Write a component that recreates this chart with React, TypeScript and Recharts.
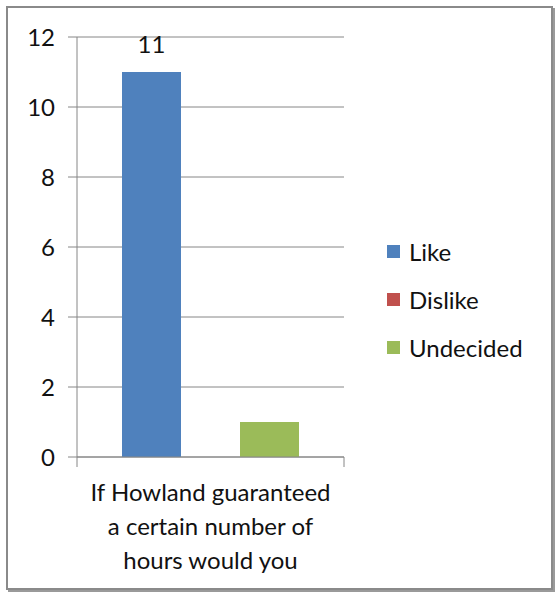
import { BarChart, Bar, XAxis, YAxis, CartesianGrid, Legend, LabelList } from 'recharts'

const categoryLines = ['If Howland guaranteed', 'a certain number of', 'hours would you']
const categories = [categoryLines.join(' ')]
const seriesNames = ['Like', 'Dislike', 'Undecided']
const likeValues = [11]
const dislikeValues = [0]
const undecidedValues = [1]
const yTicks = [0, 2, 4, 6, 8, 10, 12]

const colors = ['#4F81BD', '#C0504D', '#9BBB59']
const font = "Lato, 'Open Sans', sans-serif"
const axisGray = '#868686'
const textColor = '#111'

const data = categories.map((name, i) => ({
  name,
  Like: likeValues[i],
  Dislike: dislikeValues[i],
  Undecided: undecidedValues[i],
}))

function CategoryTick(props: any) {
  const { x, y, width } = props
  const half = (typeof width === 'number' ? width : 267) / 2
  return (
    <g>
      <line x1={x - half} x2={x - half} y1={y} y2={y + 10} stroke={axisGray} />
      <line x1={x + half} x2={x + half} y1={y} y2={y + 10} stroke={axisGray} />
      <text x={x} y={y} textAnchor="middle" fill={textColor} fontSize={24} fontFamily={font}>
        {categoryLines.map((line, i) => (
          <tspan key={i} x={x} y={y + 44 + i * 34}>{line}</tspan>
        ))}
      </text>
    </g>
  )
}

function LegendContent(props: any) {
  const payload: any[] = props.payload || []
  const ordered = seriesNames
    .map((n) => payload.find((p) => p.value === n || p.dataKey === n))
    .filter(Boolean)
  return (
    <div>
      {ordered.map((entry: any) => (
        <div key={entry.value} style={{ display: 'flex', alignItems: 'center', height: 48 }}>
          <span style={{ width: 13, height: 13, background: entry.color, display: 'inline-block', marginRight: 9 }} />
          <span style={{ fontFamily: font, fontSize: 24, color: textColor }}>{entry.value}</span>
        </div>
      ))}
    </div>
  )
}

export default function App() {
  return (
    <div style={{ position: 'absolute', left: 0, top: 0, width: 555, height: 592, background: '#fff' }}>
      <div
        style={{
          position: 'absolute',
          left: 6,
          top: 6,
          width: 543,
          height: 580,
          border: '2px solid #8a8a8a',
          boxShadow: '2px 2px 0 #9a9a9a',
        }}
      />
      <div style={{ position: 'absolute', left: 0, top: 0 }}>
        <BarChart
          width={555}
          height={592}
          data={data}
          margin={{ top: 37, right: 211, bottom: 0, left: 0 }}
          barCategoryGap={45}
          barGap={0}
        >
          <CartesianGrid vertical={false} stroke={axisGray} strokeWidth={1} />
          <XAxis
            dataKey="name"
            height={135}
            tickLine={false}
            tickSize={0}
            tickMargin={0}
            axisLine={{ stroke: axisGray }}
            tick={<CategoryTick />}
            interval={0}
          />
          <YAxis
            width={77}
            domain={[0, 12]}
            ticks={yTicks}
            interval={0}
            tickSize={9}
            tickMargin={13}
            axisLine={{ stroke: axisGray }}
            tickLine={{ stroke: axisGray }}
            tick={{ fill: textColor, fontSize: 24, fontFamily: font }}
          />
          <Legend
            layout="vertical"
            align="center"
            verticalAlign="middle"
            content={<LegendContent />}
            wrapperStyle={{ left: 387, top: 227, width: 160 }}
          />
          {seriesNames.map((s, i) => (
            <Bar key={s} dataKey={s} fill={colors[i]} isAnimationActive={false}>
              {s === 'Like' && (
                <LabelList dataKey={s} position="top" offset={19} fill={textColor} fontSize={24} fontFamily={font} />
              )}
            </Bar>
          ))}
        </BarChart>
      </div>
    </div>
  )
}
